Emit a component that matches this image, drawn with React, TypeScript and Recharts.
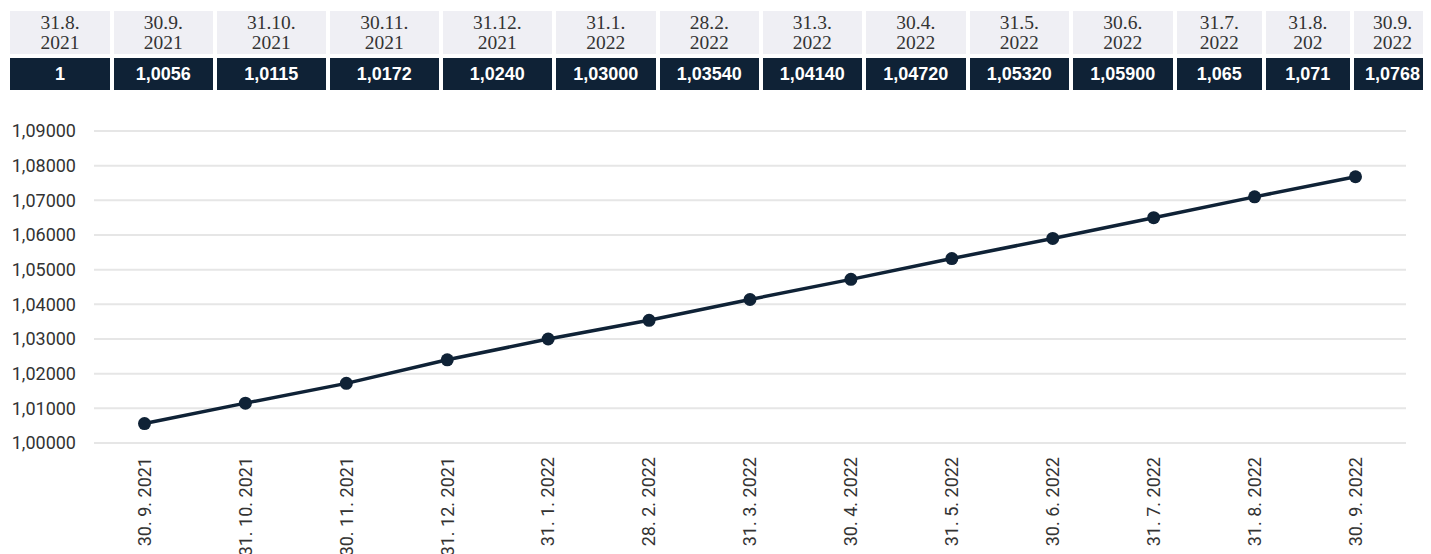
import React from "react";
import { LineChart, Line, XAxis, YAxis, CartesianGrid } from "recharts";

// Header table
const headerDates = [
  ["31.8.", "2021"], ["30.9.", "2021"], ["31.10.", "2021"], ["30.11.", "2021"],
  ["31.12.", "2021"], ["31.1.", "2022"], ["28.2.", "2022"], ["31.3.", "2022"],
  ["30.4.", "2022"], ["31.5.", "2022"], ["30.6.", "2022"], ["31.7.", "2022"],
  ["31.8.", "202"], ["30.9.", "2022"],
];
const headerValues = [
  "1", "1,0056", "1,0115", "1,0172", "1,0240", "1,03000", "1,03540", "1,04140",
  "1,04720", "1,05320", "1,05900", "1,065", "1,071", "1,0768",
];

// Chart data
const categories = [
  "30. 9. 2021", "31. 10. 2021", "30. 11. 2021", "31. 12. 2021", "31. 1. 2022",
  "28. 2. 2022", "31. 3. 2022", "30. 4. 2022", "31. 5. 2022", "30. 6. 2022",
  "31. 7. 2022", "31. 8. 2022", "30. 9. 2022",
];
const values = [
  1.0056, 1.0115, 1.0172, 1.024, 1.03, 1.0354, 1.0414, 1.0472, 1.0532, 1.059,
  1.065, 1.071, 1.0768,
];
const yTicks = [1.0, 1.01, 1.02, 1.03, 1.04, 1.05, 1.06, 1.07, 1.08, 1.09];

// layout (not data)
const cellWidths = [100, 99.5, 109.5, 109.5, 109.5, 100.5, 99.5, 99.5, 100.5, 99.5, 100.5, 85.5, 84.5, 78];

const NAVY = "#0f2236";

const data = categories.map((c, i) => ({ date: c, value: values[i] }));

const XTick = (props: any) => {
  const { x, y, payload } = props;
  return (
    <g transform={`translate(${x},${y})`}>
      <text
        transform="rotate(-90)"
        textAnchor="end"
        dy="0.35em"
        fill="#333"
        fontSize={18}
        fontFamily="Roboto"
      >
        {payload.value}
      </text>
    </g>
  );
};

export default function App() {
  return (
    <div style={{ position: "relative", width: 1423, height: 546, overflow: "hidden" }}>
      <style>{"body{overflow:hidden}"}</style>
      <div style={{ position: "absolute", left: 2, top: 3, display: "flex", gap: 3.5 }}>
        {headerDates.map((d, i) => (
          <div key={i} style={{ width: cellWidths[i], flex: "none" }}>
            <div
              style={{
                height: 43,
                background: "#efeff4",
                color: "#333",
                fontFamily: "'Liberation Serif', 'Times New Roman', serif",
                fontSize: 19.5,
                lineHeight: "20px",
                textAlign: "center",
                paddingTop: 2,
                boxSizing: "border-box",
              }}
            >
              {d[0]}
              <br />
              {d[1]}
            </div>
            <div
              style={{
                marginTop: 4,
                height: 32,
                background: NAVY,
                color: "#fff",
                fontFamily: "'Liberation Sans', Arial, sans-serif",
                fontWeight: "bold",
                fontSize: 18,
                lineHeight: "32px",
                textAlign: "center",
                whiteSpace: "nowrap",
              }}
            >
              {headerValues[i]}
            </div>
          </div>
        ))}
      </div>
      <div style={{ position: "absolute", left: 0, top: 92 }}>
        <LineChart
          width={1423}
          height={454}
          data={data}
          margin={{ top: 31, right: 25, bottom: 0, left: 0 }}
        >
          <CartesianGrid vertical={false} stroke="#e6e6e6" strokeWidth={2} />
          <XAxis
            dataKey="date"
            interval={0}
            axisLine={false}
            tickLine={false}
            tickSize={0}
            tickMargin={14}
            height={111}
            padding={{ left: 50.5, right: 50.5 }}
            tick={<XTick />}
          />
          <YAxis
            domain={[1.0, 1.09]}
            ticks={yTicks}
            width={86}
            axisLine={false}
            tickLine={false}
            tickSize={0}
            tickMargin={18}
            tickFormatter={(v: number) => v.toFixed(5).replace(".", ",")}
            tick={{ fill: "#333", fontSize: 18, fontFamily: "Roboto" }}
            allowDataOverflow
          />
          <Line
            type="linear"
            dataKey="value"
            stroke={NAVY}
            strokeWidth={3.5}
            dot={{ r: 6.5, fill: NAVY, stroke: NAVY, strokeWidth: 0 }}
            activeDot={false}
            isAnimationActive={false}
          />
        </LineChart>
      </div>
    </div>
  );
}
